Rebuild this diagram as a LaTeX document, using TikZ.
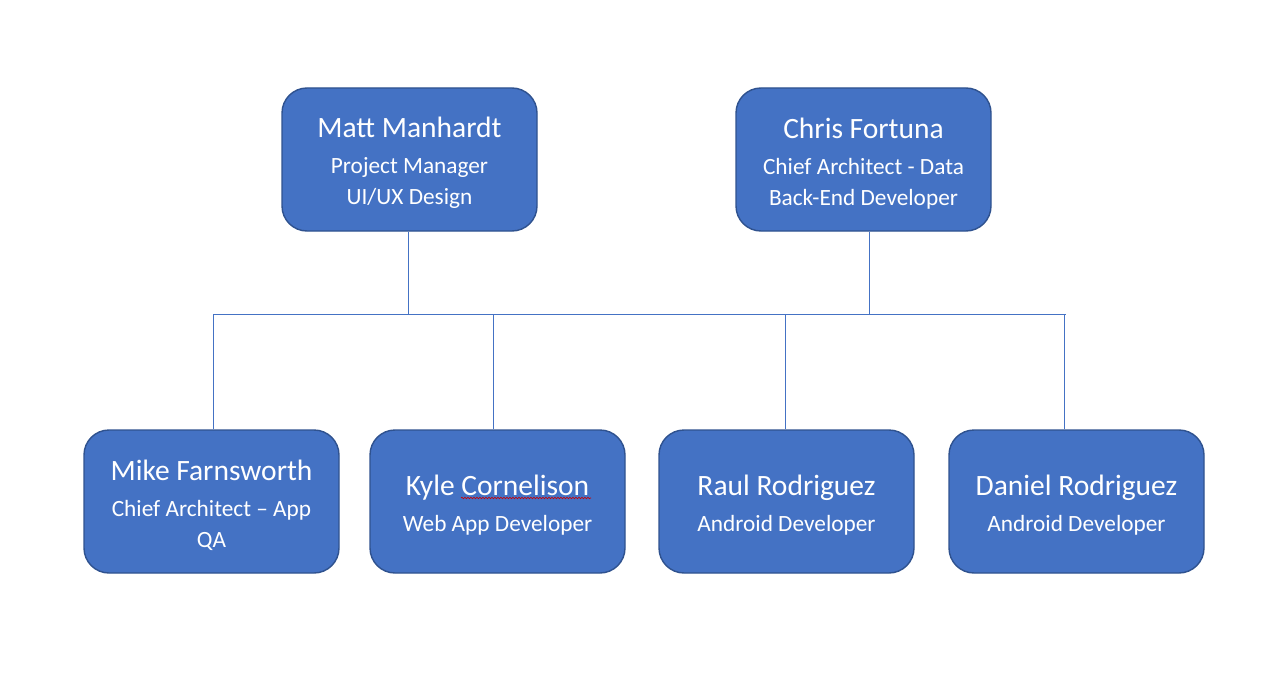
\documentclass[tikz,border=0pt]{standalone}
\usepackage{fontspec}
\setmainfont{Carlito}
\usetikzlibrary{decorations.pathmorphing}
\definecolor{boxfill}{HTML}{4472C4}
\definecolor{boxedge}{HTML}{2F528F}
\newcommand{\membername}[1]{{\fontsize{29.5}{31}\selectfont\rule{0pt}{28pt}#1}\\[5pt]}

\begin{document}
\begin{tikzpicture}[x=1pt,y=-1pt,
    member/.style={draw=boxedge,line width=1.4pt,fill=boxfill,rounded corners=25pt,
        minimum width=255pt,minimum height=143pt,align=center,text=white,
        font=\fontsize{23.3}{31}\selectfont},
    link/.style={draw=boxfill,line width=1pt}]
\useasboundingbox (0,0) rectangle (1286,677);

\node[member] (matt) at (409.5,159.5) {\membername{Matt Manhardt}Project Manager\\UI/UX Design};
\node[member] (chris) at (863.5,159.5) {\membername{Chris Fortuna}Chief Architect - Data\\Back-End Developer};

\node[member] (mike) at (211.5,501.5) {\membername{Mike Farnsworth}Chief Architect -- App\\QA};
\node[member] (kyle) at (497.5,501.5) {\membername{Kyle Cornelison}Web App Developer};
\node[member] (raul) at (786.5,501.5) {\membername{Raul Rodriguez}Android Developer};
\node[member] (daniel) at (1076.5,501.5) {\membername{Daniel Rodriguez}Android Developer};

% spell-check underline
\draw[red!80!black,line width=0.6pt,decorate,decoration={snake,segment length=3pt,amplitude=0.8pt}] (461,498) -- (591,498);

% bus
\coordinate (busL) at (213,314);
\coordinate (busR) at (1066,314);
\draw[link] (busL) -- (busR);
\draw[link] ([xshift=-1.5pt]matt.south) -- ([xshift=-1.5pt]matt.south |- busL);
\draw[link] ([xshift=5.5pt]chris.south) -- ([xshift=5.5pt]chris.south |- busL);

\draw[link] ([xshift=1.5pt]mike.north) -- ([xshift=1.5pt]mike.north |- busL);
\draw[link] ([xshift=-4.5pt]kyle.north) -- ([xshift=-4.5pt]kyle.north |- busL);
\draw[link] ([xshift=-1.5pt]raul.north) -- ([xshift=-1.5pt]raul.north |- busL);
\draw[link] ([xshift=-12.5pt]daniel.north) -- ([xshift=-12.5pt]daniel.north |- busL);
\end{tikzpicture}
\end{document}
